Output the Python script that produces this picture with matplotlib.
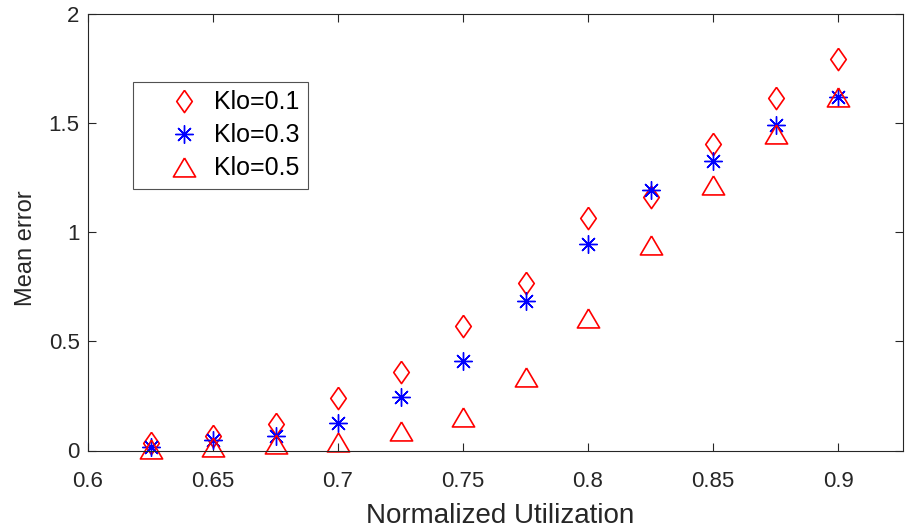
import matplotlib
matplotlib.use("Agg")
import matplotlib.pyplot as plt
from matplotlib.ticker import FixedLocator

plt.rcParams['font.family'] = ['Liberation Sans', 'DejaVu Sans']

x = [0.625, 0.65, 0.675, 0.7, 0.725, 0.75, 0.775, 0.8, 0.825, 0.85, 0.875, 0.9]
klo01 = [0.033, 0.066, 0.122, 0.24, 0.36, 0.57, 0.765, 1.063, 1.16, 1.405, 1.613, 1.792]
klo03 = [0.015, 0.046, 0.066, 0.125, 0.245, 0.41, 0.683, 0.946, 1.193, 1.326, 1.488, 1.62]
klo05 = [0.005, 0.015, 0.032, 0.04, 0.09, 0.155, 0.336, 0.607, 0.939, 1.216, 1.45, 1.618]
labels = ['Klo=0.1', 'Klo=0.3', 'Klo=0.5']
xticks = [0.6, 0.65, 0.7, 0.75, 0.8, 0.85, 0.9]
yticks = [0, 0.5, 1, 1.5, 2]

fig = plt.figure(figsize=(9.06, 5.32), dpi=100)
ax = fig.add_axes([88/906, (532-450.5)/532, (903-88)/906, (450.5-13.5)/532])

tri = [(0, 0.85), (-1, -0.85), (1, -0.85), (0, 0.85)]
dia = [(0, 1), (0.7, 0), (0, -1), (-0.7, 0), (0, 1)]
ax.plot(x, klo01, linestyle='none', marker=dia, ms=16, mfc='none', mec='#ff0000', mew=1.2, label=labels[0], clip_on=False)
ax.plot(x, klo03, linestyle='none', marker=(8, 2, 0), ms=13, mfc='none', mec='#0000ff', mew=1.0, label=labels[1], clip_on=False)
ax.plot(x, klo05, linestyle='none', marker=tri, ms=16, mfc='none', mec='#ff0000', mew=1.2, label=labels[2], clip_on=False)

ax.set_xlim(0.6, 0.6 + (903-88)/125.0*0.05)
ax.set_ylim(0, 2)
ax.xaxis.set_major_locator(FixedLocator(xticks))
ax.yaxis.set_major_locator(FixedLocator(yticks))
ax.set_xticklabels(['0.6', '0.65', '0.7', '0.75', '0.8', '0.85', '0.9'])
ax.set_yticklabels(['0', '0.5', '1', '1.5', '2'])
axcol = '#262626'
for s in ax.spines.values():
    s.set_color(axcol)
    s.set_linewidth(0.8)
ax.tick_params(direction='in', top=True, right=True, length=6, width=0.8, colors=axcol,
               labelsize=16, labelcolor='#262626')
ax.tick_params(axis='x', pad=15)
ax.tick_params(axis='y', pad=6)
ax.set_xlabel('Normalized Utilization', fontsize=20, color='#262626')
ax.set_ylabel('Mean error', fontsize=17, color='#262626')
ax.xaxis.label.set_va('center')
ax.yaxis.label.set_va('center')
ax.xaxis.set_label_coords((500.5-88)/815, (450.5-516)/437)
ax.yaxis.set_label_coords((26-88)/815, (450.5-248.5)/437)

leg = ax.legend(loc='upper left', bbox_to_anchor=((133-88)/815, 1-(82-13.5)/437), fontsize=18,
                frameon=True, fancybox=False, edgecolor='#262626', borderpad=0.33,
                labelspacing=0.36, handletextpad=-0.5, handlelength=3.4, borderaxespad=0)
leg.get_frame().set_linewidth(0.8)
for t in leg.get_texts():
    t.set_color('#000000')

fig.savefig('out.png', dpi=100)
